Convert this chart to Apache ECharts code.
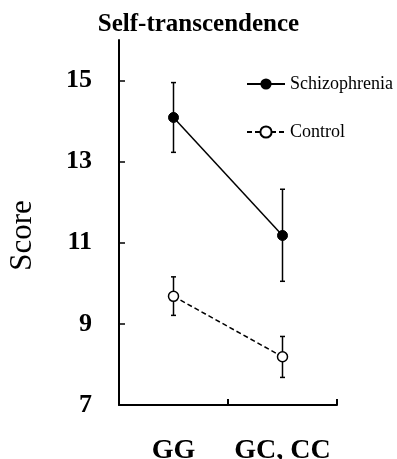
<!DOCTYPE html>
<html><head><meta charset="utf-8">
<script src="https://cdn.jsdelivr.net/npm/echarts@6/dist/echarts.min.js"></script>
<style>html,body{margin:0;padding:0;background:#fff}#c{width:397px;height:459px}</style>
</head><body><div id="c"></div>
<script>
const categories = ['GG', 'GC, CC'];
const yTicks = [7, 9, 11, 13, 15];
const schizMean = [14.09, 11.18];
const schizLow = [13.23, 10.05];
const schizHigh = [14.95, 12.32];
const controlMean = [9.68, 8.19];
const controlLow = [9.21, 7.68];
const controlHigh = [10.16, 8.69];

const serif = '"Liberation Serif", "DejaVu Serif", serif';
// each category occupies one unit band on the x value axis; its marks sit at the band centre
const catPos = categories.map((c, i) => i + 0.5);

function errData(lo, hi) {
  return categories.map((c, i) => [catPos[i], lo[i], hi[i]]);
}
function lineData(vals) {
  return categories.map((c, i) => [catPos[i], vals[i]]);
}
function renderErr(params, api) {
  const x = api.value(0), lo = api.value(1), hi = api.value(2);
  const p1 = api.coord([x, lo]), p2 = api.coord([x, hi]);
  const w = 2.5;
  const style = { stroke: '#000', lineWidth: 1.5 };
  return { type: 'group', children: [
    { type: 'line', shape: { x1: p1[0], y1: p1[1], x2: p2[0], y2: p2[1] }, style },
    { type: 'line', shape: { x1: p1[0] - w, y1: p1[1], x2: p1[0] + w, y2: p1[1] }, style },
    { type: 'line', shape: { x1: p2[0] - w, y1: p2[1], x2: p2[0] + w, y2: p2[1] }, style }
  ]};
}

const chart = echarts.init(document.getElementById('c'), null, { renderer: 'canvas' });
chart.setOption({
  animation: false,
  backgroundColor: '#fff',
  title: {
    text: 'Self-transcendence', left: 'center', top: 7,
    textStyle: { fontFamily: serif, fontWeight: 'bold', fontSize: 25, color: '#000' }
  },
  legend: {
    data: ['Schizophrenia', 'Control'],
    orient: 'vertical', left: 241, top: 70,
    itemWidth: 38, itemHeight: 14, itemGap: 30,
    textStyle: { fontFamily: serif, fontSize: 18, color: '#000' }
  },
  grid: { left: 119, right: 60, top: 40, bottom: 54, outerBoundsMode: 'none', containLabel: false },
  xAxis: {
    type: 'value', min: 0, max: categories.length, interval: 1,
    axisLine: { lineStyle: { color: '#000', width: 2 } },
    axisTick: { show: true, inside: true, length: 6, lineStyle: { color: '#000', width: 2 } },
    axisLabel: {
      customValues: catPos, formatter: v => categories[Math.floor(v)],
      margin: 32, fontFamily: serif, fontWeight: 'bold', fontSize: 28, color: '#000'
    },
    splitLine: { show: false }
  },
  yAxis: {
    type: 'value', min: 7, max: 16, interval: 2,
    name: 'Score', nameLocation: 'middle', nameGap: 81, nameRotate: 90,
    nameTextStyle: { fontFamily: serif, fontSize: 31, color: '#000', padding: [0, 26, 0, 0] },
    axisLine: { show: true, lineStyle: { color: '#000', width: 2 } },
    axisTick: { show: true, inside: true, length: 6, customValues: yTicks, lineStyle: { color: '#000', width: 1.5 } },
    axisLabel: { margin: 27, customValues: yTicks, fontFamily: serif, fontWeight: 'bold', fontSize: 26, color: '#000' },
    splitLine: { show: false }
  },
  series: [
    { type: 'custom', name: 'schizErr', renderItem: renderErr, data: errData(schizLow, schizHigh), encode: { x: 0, y: [1, 2] }, z: 1 },
    { type: 'custom', name: 'controlErr', renderItem: renderErr, data: errData(controlLow, controlHigh), encode: { x: 0, y: [1, 2] }, z: 1 },
    {
      name: 'Schizophrenia', type: 'line', data: lineData(schizMean), z: 3,
      symbol: 'circle', symbolSize: 10,
      itemStyle: { color: '#000', borderColor: '#000' },
      lineStyle: { color: '#000', width: 1.5 }
    },
    {
      name: 'Control', type: 'line', data: lineData(controlMean), z: 3,
      symbol: 'circle', symbolSize: 10,
      itemStyle: { color: '#fff', borderColor: '#000', borderWidth: 1.5 },
      lineStyle: { color: '#000', width: 1.5, type: [5, 3] }
    }
  ]
});
</script>
</body></html>
